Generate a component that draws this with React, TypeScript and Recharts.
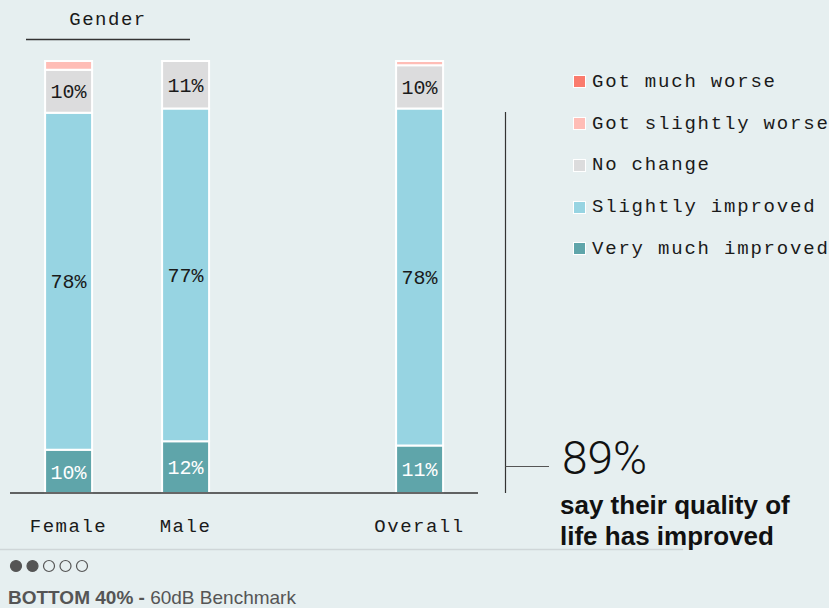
import React from "react";
import { BarChart, Bar, XAxis, YAxis, LabelList } from "recharts";

const categories = ["Female", "Male", "", "Overall"];
const veryMuchImproved = [10, 12, null, 11];
const slightlyImproved = [78, 77, null, 78];
const noChange = [10, 11, null, 10];
const gotSlightlyWorse = [2, 0, null, 1];
const gotMuchWorse = [0, 0, null, 0];

const series = [
  { key: "veryMuch", name: "Very much improved", color: "#5fa5aa", text: "#ffffff" },
  { key: "slightly", name: "Slightly improved", color: "#97d4e2", text: "#1a1a1a" },
  { key: "noChange", name: "No change", color: "#dcdcdd", text: "#1a1a1a" },
  { key: "slightlyWorse", name: "Got slightly worse", color: "#ffbdb6", text: "#1a1a1a" },
  { key: "muchWorse", name: "Got much worse", color: "#fa7b6d", text: "#1a1a1a" },
];

const data = categories.map((name, i) => ({
  name,
  veryMuch: veryMuchImproved[i],
  slightly: slightlyImproved[i],
  noChange: noChange[i],
  slightlyWorse: gotSlightlyWorse[i],
  muchWorse: gotMuchWorse[i],
}));

const MONO = "'Liberation Mono', 'DejaVu Sans Mono', monospace";
const SANS = "'Liberation Sans', Arial, sans-serif";
const BG = "#e6eff0";

const CategoryTick = ({ x, y, payload }: any) => (
  <text x={x} y={y} dy={39} textAnchor="middle" fill="#1a1a1a" fontFamily={MONO} fontSize={19} letterSpacing={1.5}>
    {payload.value}
  </text>
);

const LegendList = () => (
  <div style={{ fontFamily: MONO, fontSize: 19, letterSpacing: 1.8, color: "#1a1a1a" }}>
    {[...series].reverse().map((s) => (
      <div key={s.key} style={{ display: "flex", alignItems: "center", height: 41.75, whiteSpace: "nowrap" }}>
        <span
          style={{
            width: 11,
            height: 11,
            background: s.color,
            border: "1px solid #fff",
            marginRight: 6,
            display: "inline-block",
            flex: "none",
          }}
        />
        <span>{s.name}</span>
      </div>
    ))}
  </div>
);

export default function App() {
  return (
    <div style={{ position: "absolute", left: 0, top: 0, width: 829, height: 608, background: BG, overflow: "hidden" }}>
      <BarChart
        width={829}
        height={608}
        data={data}
        margin={{ top: 61, right: 351, left: 10, bottom: 85 }}
        barCategoryGap="30%"
      >
        <XAxis
          dataKey="name"
          height={30}
          tickLine={false}
          tickSize={0}
          tickMargin={0}
          axisLine={{ stroke: "#333", strokeWidth: 1.5 }}
          tick={<CategoryTick />}
          interval={0}
        />
        <YAxis hide domain={[0, 100]} type="number" />
        {series.map((s) => (
          <Bar
            key={s.key}
            dataKey={s.key}
            name={s.name}
            stackId="a"
            fill={s.color}
            stroke="#ffffff"
            strokeWidth={2}
            isAnimationActive={false}
          >
            <LabelList
              dataKey={s.key}
              position="center"
              fill={s.text}
              fontFamily={MONO}
              fontSize={20}
              formatter={(v: any) => (v != null && v >= 5 ? `${v}%` : "")}
            />
          </Bar>
        ))}
      </BarChart>

      <div style={{ position: "absolute", left: 573, top: 61 }}>
        <LegendList />
      </div>

      <svg width={829} height={608} style={{ position: "absolute", left: 0, top: 0, pointerEvents: "none" }}>
        <text x={108} y={25} textAnchor="middle" fontFamily={MONO} fontSize={19} letterSpacing={1.5} fill="#1a1a1a">
          Gender
        </text>
        <line x1={26} x2={190} y1={39.5} y2={39.5} stroke="#333" strokeWidth={1.5} />
        <line x1={505.5} x2={505.5} y1={112} y2={493} stroke="#333" strokeWidth={1.2} />
        <line x1={505.5} x2={549} y1={466.5} y2={466.5} stroke="#555" strokeWidth={1.2} />
        <line x1={0} x2={683} y1={549.5} y2={549.5} stroke="#cfd6d8" strokeWidth={1.5} />
        {[0, 1, 2, 3, 4].map((i) => (
          <circle
            key={i}
            cx={16 + i * 16.5}
            cy={566}
            r={5.5}
            fill={i < 2 ? "#555" : "none"}
            stroke="#555"
            strokeWidth={1.2}
          />
        ))}
      </svg>

      <div style={{ position: "absolute", left: 562, top: 431, fontFamily: "Roboto, 'Liberation Sans', sans-serif", fontWeight: 300, fontSize: 46, lineHeight: "54px", color: "#111" }}>
        89%
      </div>
      <div style={{ position: "absolute", left: 560, top: 490, fontFamily: SANS, fontWeight: 700, fontSize: 26, lineHeight: "31px", color: "#111" }}>
        say their quality of
        <br />
        life has improved
      </div>
      <div style={{ position: "absolute", left: 8, top: 587, fontFamily: SANS, fontSize: 19, color: "#555", whiteSpace: "nowrap" }}>
        <b>BOTTOM 40% -</b> 60dB Benchmark
      </div>
    </div>
  );
}
